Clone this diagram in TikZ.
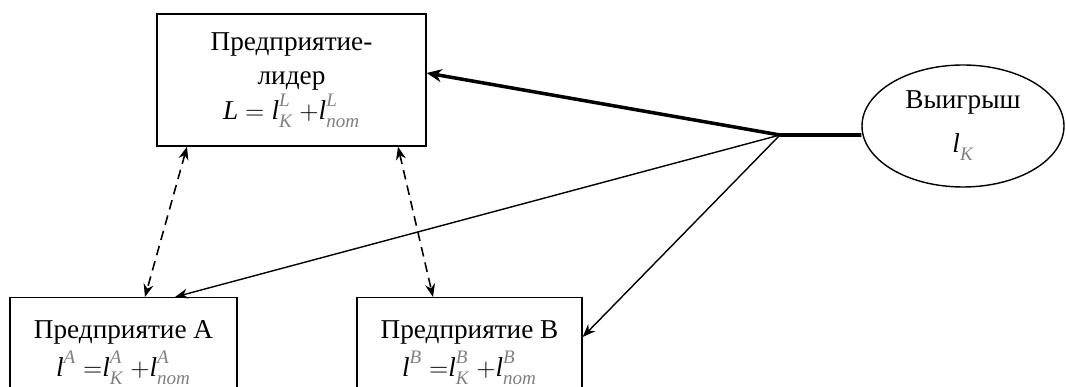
\documentclass[tikz,border=0pt]{standalone}
\usepackage{amsmath}
\usepackage{fontspec}
\setmainfont{Liberation Serif}
\usepackage{tikz}
\usepackage{xcolor}
\usetikzlibrary{positioning, arrows.meta}
\usetikzlibrary{shapes}

% l with grey upper and lower indices
\newcommand{\lidx}[2]{\textit{l}$^{\text{\raisebox{2pt}{\color{gray}\itshape #1}}}_{\text{\raisebox{-1pt}{\color{gray}\itshape #2}}}$}

\tikzset{
  firm/.style={rectangle, draw=black, line width=0.8pt, align=center, font=\fontsize{15.5}{19.5}\selectfont},
  link/.style={-{Stealth[length=2.6mm, width=2mm]}, line width=0.8pt},
  fat/.style={line width=2pt},
  rival/.style={{Stealth[length=2.6mm, width=2mm]}-{Stealth[length=2.6mm, width=2mm]}, line width=0.9pt, dash pattern=on 5.5pt off 3.5pt}
}

\begin{document}
\begin{tikzpicture}
            \useasboundingbox (0,0) rectangle (21.32,7.74);

            \node[firm, minimum width=5.38cm, minimum height=2.64cm] (lead) at (5.83, 6.14) {Предприятие-\\лидер\\$\textit{L} = {}$\lidx{L}{К} $+$\lidx{L}{пот}};
            \node[firm, anchor=north, minimum width=4.54cm, minimum height=2.2cm] (A) at (2.47, 1.8) {Предприятие A\\[2pt]\lidx{A}{} $=$\lidx{A}{К} $+$\lidx{A}{пот}};
            \node[firm, anchor=north, minimum width=4.5cm, minimum height=2.2cm] (B) at (9.39, 1.8) {Предприятие B\\[2pt]\lidx{B}{} $=$\lidx{B}{К} $+$\lidx{B}{пот}};
            \node[ellipse, draw=black, line width=0.8pt, minimum width=4.04cm, minimum height=2.44cm, align=center, font=\fontsize{15.5}{25}\selectfont] (win) at (19.26, 5.22) {Выигрыш\\\lidx{}{К}};

            \coordinate (fork) at (15.6, 5.04);

            \draw[fat] ([yshift=-1.8mm]win.west) -- (fork);
            \draw[fat, -{Stealth[length=3mm, width=2.6mm]}] (fork) -- ([yshift=1.4mm]lead.east);
            \draw[link] (fork) -- ([xshift=10.3mm]A.north);
            \draw[link] (fork) -- ([yshift=-8mm]B.north east);

            \draw[rival] ([xshift=-20.9mm]lead.south) -- ([xshift=4.3mm]A.north);
            \draw[rival] ([xshift=21.3mm]lead.south) -- ([xshift=-7.3mm]B.north);
        \end{tikzpicture}
\end{document}
